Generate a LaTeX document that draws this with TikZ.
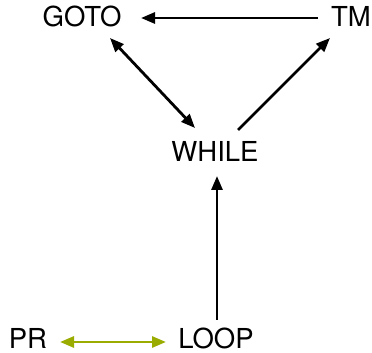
\documentclass[tikz,border=0pt]{standalone}
\usepackage{fontspec}
\setmainfont{TeX Gyre Heros}
\usetikzlibrary{arrows.meta}
\definecolor{olive}{RGB}{155,172,0}
\begin{document}
\begin{tikzpicture}[x=1pt,y=1pt,
  lang/.style={anchor=base,inner sep=0pt,font=\fontsize{27.5}{30}\selectfont},
  tip/.tip={Triangle[length=14pt,width=11pt]},
  link/.style={line width=2.8pt,-tip},
  both/.style={line width=2.8pt,tip-tip}]
\useasboundingbox (0,0) rectangle (372,353);
\node[lang] (goto)  at (82,326.5) {GOTO};
\node[lang] (tm)    at (351,326.5) {TM};
\node[lang] (while) at (215,191) {WHILE};
\node[lang] (loop)  at (216,4.5) {LOOP};
\node[lang] (pr)    at (28,4.5) {PR};
% TM reaches GOTO
\draw[link] ([shift={(-33,8.5)}]tm.base) -- ([shift={(59,8.5)}]goto.base);
% GOTO and WHILE are equivalent
\draw[both] ([shift={(28,-11.5)}]goto.base) -- ([shift={(-20,34)}]while.base);
% WHILE reaches TM
\draw[link] ([shift={(23,32)}]while.base) -- ([shift={(-21,-11.5)}]tm.base);
% LOOP reaches WHILE
\draw[link] ([shift={(1,28.5)}]loop.base) -- ([shift={(2,-14)}]while.base);
% PR and LOOP are equivalent
\draw[both,olive] ([shift={(32,6.5)}]pr.base) -- ([shift={(-50,6.5)}]loop.base);
\end{tikzpicture}
\end{document}
